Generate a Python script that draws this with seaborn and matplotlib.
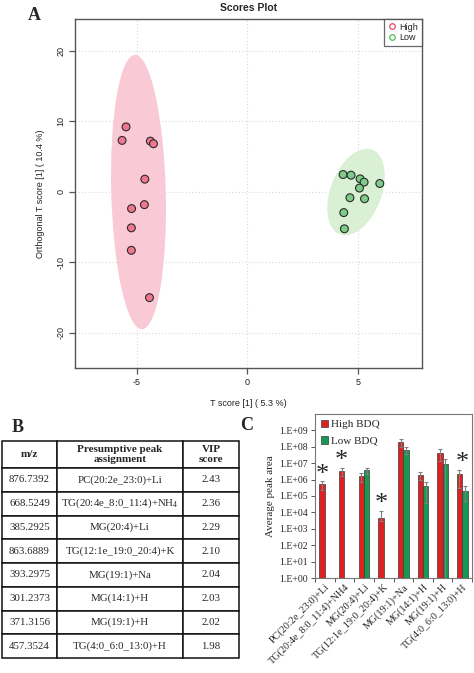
import numpy as np
import pandas as pd
import seaborn as sns
import matplotlib.pyplot as plt
from matplotlib.patches import Ellipse
from matplotlib.lines import Line2D
from matplotlib.ticker import FuncFormatter

# ---- panel A: OPLS-DA scores ----
high_t = [-5.49, -5.67, -4.39, -4.25, -4.64, -4.66, -5.24, -5.25, -5.25, -4.43]
high_o = [9.20, 7.28, 7.18, 6.81, 1.78, -1.83, -2.39, -5.12, -8.31, -15.02]
low_t = [4.33, 4.69, 5.10, 5.28, 5.99, 5.07, 4.64, 5.30, 4.36, 4.39]
low_o = [2.44, 2.35, 1.83, 1.36, 1.17, 0.52, -0.85, -0.99, -2.96, -5.26]

# ---- panel B: VIP table ----
mz = ["876.7392", "668.5249", "385.2925", "863.6889", "393.2975", "301.2373", "371.3156", "457.3524"]
assignment = ["PC(20:2e_23:0)+Li", "TG(20:4e_8:0_11:4)+NH$_\\mathregular{4}$", "MG(20:4)+Li",
              "TG(12:1e_19:0_20:4)+K", "MG(19:1)+Na", "MG(14:1)+H", "MG(19:1)+H", "TG(4:0_6:0_13:0)+H"]
vip = ["2.43", "2.36", "2.29", "2.10", "2.04", "2.03", "2.02", "1.98"]

# ---- panel C: average peak areas ----
lipids = ["PC(20:2e_23:0)+Li", "TG(20:4e_8:0_11:4)+NH4", "MG(20:4)+Li", "TG(12:1e_19:0_20:4)+K",
          "MG(19:1)+Na", "MG(14:1)+H", "MG(19:1)+H", "TG(4:0_6:0_13:0)+H"]
high_area = [5.1e5, 3.5e6, 1.6e6, 4.8e3, 2.1e8, 1.9e6, 4.2e7, 2.1e6]
high_err_hi = [2.7e5, 1.8e6, 0.9e6, 7.5e3, 1.1e8, 1.0e6, 2.8e7, 1.8e6]
high_err_lo = [2.7e5, 1.8e6, 0.9e6, 2.0e3, 1.1e8, 1.0e6, 2.8e7, 1.8e6]
low_area = [np.nan, np.nan, 3.7e6, np.nan, 6.8e7, 3.9e5, 9.3e6, 1.9e5]
low_err_hi = [np.nan, np.nan, 1.4e6, np.nan, 3.4e7, 3.5e5, 9.7e6, 2.0e5]
low_err_lo = [np.nan, np.nan, 1.4e6, np.nan, 3.4e7, 3.5e5, 9.7e6, 1.4e5]
significant = [True, True, False, True, False, False, False, True]

W, H = 474, 673
fig = plt.figure(figsize=(W / 100, H / 100), dpi=100)
sns.set_style("white")
plt.rcParams["font.family"] = ["Liberation Sans", "DejaVu Sans"]
plt.rcParams["axes.unicode_minus"] = False
plt.rcParams["mathtext.fontset"] = "custom"
plt.rcParams["mathtext.rm"] = "Liberation Serif"

def box(l, t, r, b):
    return [l / W, 1 - b / H, (r - l) / W, (b - t) / H]

# ================= A =================
ax = fig.add_axes(box(75, 19, 422, 368))
scores = pd.DataFrame({
    "t": high_t + low_t,
    "o": high_o + low_o,
    "group": ["High"] * len(high_t) + ["Low"] * len(low_t),
})
fills = {"High": "#F9CAD5", "Low": "#D9F0D5"}
for g, sub in scores.groupby("group"):
    cov = np.cov(sub["t"], sub["o"])
    vals, vecs = np.linalg.eigh(cov)
    ang = np.degrees(np.arctan2(vecs[1, 1], vecs[0, 1]))
    k = np.sqrt(5.991)
    ax.add_patch(Ellipse((sub["t"].mean(), sub["o"].mean()), 2 * k * np.sqrt(vals[1]),
                         2 * k * np.sqrt(vals[0]), angle=ang, facecolor=fills[g],
                         edgecolor="none", zorder=1))
sns.scatterplot(data=scores, x="t", y="o", hue="group", palette={"High": "#F0768F", "Low": "#7FCB89"},
                s=32, edgecolor="#2b2b2b", linewidth=0.8, legend=False, ax=ax, zorder=3)
ax.set_xlim(-7.8, 7.9)
ax.set_ylim(-25, 24.5)
ax.set_xticks([-5, 0, 5])
ax.set_yticks([-20, -10, 0, 10, 20])
ax.grid(True, color="#d8d8d8", linestyle=(0, (1, 2)), linewidth=0.8)
ax.set_axisbelow(True)
for s in ax.spines.values():
    s.set_color("#555555")
    s.set_linewidth(1.0)
ax.tick_params(axis="both", direction="out", length=4, width=0.9, color="#555555",
               labelsize=6.5, labelcolor="#222222", bottom=True, left=True, pad=3)
ax.tick_params(axis="y", labelrotation=90)
for lab in ax.get_yticklabels():
    lab.set_va("center")
ax.set_xlabel("T score [1] ( 5.3 %)", fontsize=6.5, labelpad=9, color="#222222")
ax.set_ylabel("Orthogonal T score [1] ( 10.4 %)", fontsize=6.5, labelpad=8, color="#222222")
ax.set_title("Scores Plot", fontsize=7.5, fontweight="bold", pad=6)
handles = [Line2D([], [], marker="o", linestyle="none", markerfacecolor="none",
                  markeredgecolor=c, markersize=4, markeredgewidth=0.9)
           for c in ["#E8475F", "#55BB55"]]
leg = ax.legend(handles, ["High", "Low"], loc="upper right", fontsize=6.5, frameon=True,
                fancybox=False, borderaxespad=0, handletextpad=0.3, handlelength=1.0,
                labelspacing=0.2, borderpad=0.4)
leg.get_frame().set_edgecolor("#444444")
leg.get_frame().set_linewidth(0.9)
fig.text(34 / W, 1 - 16 / H, "A", fontsize=13, fontweight="bold", family="Liberation Serif",
         ha="center", va="center")

# ================= B =================
axb = fig.add_axes(box(2, 441, 239, 658))
axb.axis("off")
rows = [[m, a, v] for m, a, v in zip(mz, assignment, vip)]
widths = np.array([55, 126, 56], dtype=float)
tbl = axb.table(cellText=rows, colLabels=["m/z", "Presumptive peak\nassignment", "VIP\nscore"],
                colWidths=list(widths / widths.sum()), cellLoc="center", bbox=[0, 0, 1, 1])
tbl.auto_set_font_size(False)
for (r, c), cell in tbl.get_celld().items():
    cell.set_linewidth(1.1)
    cell.set_edgecolor("#111111")
    txt = cell.get_text()
    txt.set_fontfamily("Liberation Serif")
    txt.set_fontsize(7.8)
    if r == 0:
        txt.set_fontweight("bold")
        txt.set_fontsize(8)
        cell.set_height(cell.get_height() * 27 / 23.75)
fig.text(18 / W, 1 - 428 / H, "B", fontsize=13, fontweight="bold", family="Liberation Serif",
         ha="center", va="center")

# ================= C =================
axc = fig.add_axes(box(315, 414, 472, 578))
area = pd.DataFrame({
    "lipid": lipids * 2,
    "group": ["High BDQ"] * len(lipids) + ["Low BDQ"] * len(lipids),
    "area": high_area + low_area,
    "hi": high_err_hi + low_err_hi,
    "lo": high_err_lo + low_err_lo,
}).dropna()
sns.barplot(data=area, x="lipid", y="area", hue="group", order=lipids,
            hue_order=["High BDQ", "Low BDQ"], palette=["#FF0000", "#00B050"],
            width=0.55, errorbar=None, edgecolor="#3a3a3a", linewidth=0.5, ax=axc, zorder=2)
axc.set_yscale("log")
centers = {}
tops = {}
for cont, g in zip(axc.containers, ["High BDQ", "Low BDQ"]):
    sub = area[area["group"] == g].set_index("lipid").reindex(lipids).dropna()
    xs = [p.get_x() + p.get_width() / 2 for p in cont]
    axc.errorbar(xs, sub["area"], yerr=[sub["lo"], sub["hi"]], fmt="none", ecolor="#808080",
                 elinewidth=0.8, capsize=1.6, capthick=0.8, zorder=3)
    for x, (name, r) in zip(xs, sub.iterrows()):
        centers.setdefault(name, []).append(x)
        tops[name] = max(tops.get(name, 0), r["area"] + r["hi"])
for name, sig in zip(lipids, significant):
    if sig:
        axc.annotate("*", (np.mean(centers[name]), tops[name]), xytext=(0, -3),
                     textcoords="offset points", ha="center", va="bottom", fontsize=19,
                     family="Liberation Serif")
axc.set_ylim(1, 1e10)
axc.set_yticks(10.0 ** np.arange(0, 10))
axc.yaxis.set_major_formatter(FuncFormatter(lambda v, p: f"1.E+{int(round(np.log10(v))):02d}"))
axc.minorticks_off()
axc.set_xlim(-0.5, len(lipids) - 0.5)
axc.set_xticks(np.arange(len(lipids)))
axc.set_xticks(np.arange(len(lipids) + 1) - 0.5, minor=True)
axc.set_xticklabels(lipids, rotation=45, ha="right", rotation_mode="anchor",
                    fontsize=7.3, family="Liberation Serif")
axc.tick_params(axis="x", which="major", length=0, pad=3)
axc.tick_params(axis="x", which="minor", length=3, width=0.7, color="#555555", bottom=True)
axc.tick_params(axis="y", length=3, width=0.7, color="#555555", left=True, labelsize=7, pad=2)
for lab in axc.get_yticklabels():
    lab.set_fontfamily("Liberation Serif")
for s in axc.spines.values():
    s.set_color("#777777")
    s.set_linewidth(0.8)
axc.set_xlabel("")
axc.set_ylabel("Average peak area", fontsize=8, family="Liberation Serif", labelpad=3)
axc.legend(loc="upper left", frameon=False, prop={"family": "Liberation Serif", "size": 8},
           handlelength=0.7, handleheight=0.7, handletextpad=0.2, labelspacing=0.6,
           borderaxespad=0.3, borderpad=0.2)
fig.text(247 / W, 1 - 426 / H, "C", fontsize=13, fontweight="bold", family="Liberation Serif",
         ha="center", va="center")

fig.savefig("out.png", dpi=100)
